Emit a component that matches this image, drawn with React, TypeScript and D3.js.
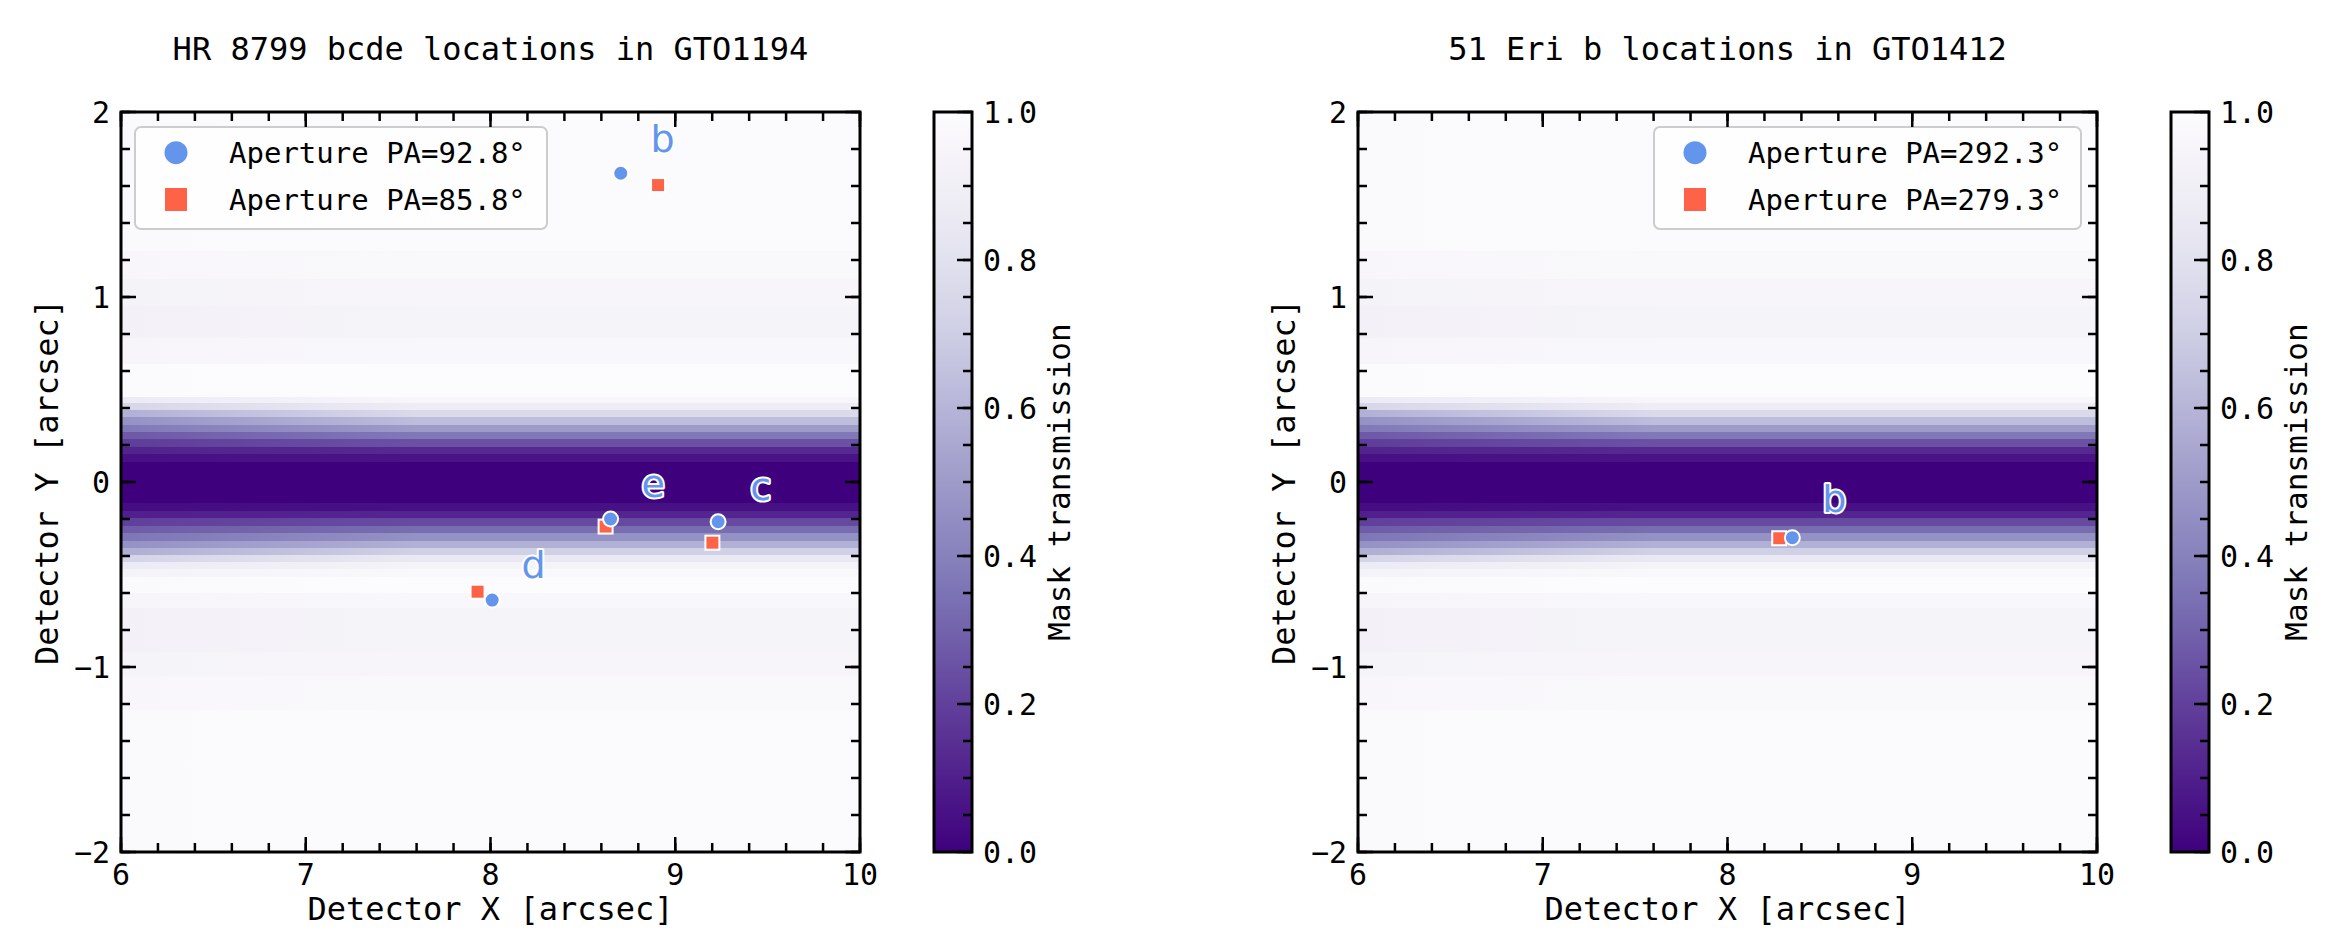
import * as d3 from "d3";

const MONO = "'DejaVu Sans Mono', monospace";
const SANS = "'DejaVu Sans', sans-serif";
const BLUE = "#6495ED";
const RED = "#FF6347";

// mask transmission bands (Detector Y edges, arcsec), value for x >= 7.6 and value at x = 6
const bandEdges = [
  2.0, 1.25, 1.1, 0.95, 0.78, 0.64, 0.461, 0.429, 0.389, 0.35, 0.308, 0.272, 0.231,
  0.191, 0.151, 0.11, -0.115, -0.157, -0.197, -0.238, -0.276, -0.317, -0.355,
  -0.395, -0.431, -0.47, -0.512, -0.6, -0.68, -0.92, -1.05, -1.23, -2.0,
];
const bandRight = [
  0.995, 0.975, 0.95, 0.935, 0.965, 1.0, 0.96, 0.88, 0.76, 0.63, 0.5, 0.37, 0.25,
  0.13, 0.06, 0.0, 0.05, 0.12, 0.23, 0.33, 0.46, 0.58, 0.71, 0.85, 0.93, 0.97, 1.0,
  0.965, 0.935, 0.95, 0.975, 0.995,
];
const bandLeft = [
  0.985, 0.96, 0.93, 0.915, 0.95, 0.99, 0.86, 0.74, 0.58, 0.46, 0.37, 0.27, 0.19,
  0.11, 0.05, 0.0, 0.04, 0.1, 0.2, 0.28, 0.36, 0.46, 0.57, 0.73, 0.86, 0.93, 0.98,
  0.95, 0.915, 0.935, 0.96, 0.985,
];

// HR 8799 in GTO1194
const hrNames = ["b", "c", "d", "e"];
const hrCircX = [8.705, 9.232, 8.009, 8.65];
const hrCircY = [1.669, -0.215, -0.638, -0.2];
const hrSqX = [8.907, 9.201, 7.93, 8.623];
const hrSqY = [1.605, -0.328, -0.593, -0.241];
const hrLabX = [8.932, 9.463, 8.233, 8.88];
const hrLabY = [1.785, -0.097, -0.519, -0.081];
const hrLegend = ["Aperture PA=92.8", "Aperture PA=85.8"];

// 51 Eri in GTO1412
const eriNames = ["b"];
const eriCircX = [8.351];
const eriCircY = [-0.301];
const eriSqX = [8.28];
const eriSqY = [-0.304];
const eriLabX = [8.578];
const eriLabY = [-0.162];
const eriLegend = ["Aperture PA=292.3", "Aperture PA=279.3"];

const cbTicks = [0, 0.2, 0.4, 0.6, 0.8, 1.0];

const cmap = (v: number) => d3.interpolatePurples(1 - v);
const fmtY = (d: number) => (d < 0 ? "\u2212" + Math.abs(d) : String(d));

function Panel(props: any) {
  const { x0, title, names, cx, cy, sx, sy, lx, ly, legend, legendRight, legendW } = props;
  const top = 112, h = 740, w = 739;
  const xS = d3.scaleLinear().domain([6, 10]).range([x0, x0 + w]);
  const yS = d3.scaleLinear().domain([-2, 2]).range([top + h, top]);
  const xMajor = xS.ticks(4);
  const yMajor = yS.ticks(4);
  const xMinor = d3.range(6, 10.001, 0.2);
  const yMinor = d3.range(-2, 2.001, 0.2);
  const cbX = x0 + w + 74, cbW = 38;
  const cS = d3.scaleLinear().domain([0, 1]).range([top + h, top]);
  const cbMinor = d3.range(0, 1.001, 0.05);
  const lgX = legendRight ? x0 + w - 16 - legendW : x0 + 14;
  const lgY = 127;

  return (
    <g>
      <text x={x0 + w / 2} y={60} textAnchor="middle" fontFamily={MONO} fontSize={32}>{title}</text>

      {/* mask */}
      <g shapeRendering="crispEdges">
        {bandRight.map((_, i) => (
          <rect key={i} x={x0} y={yS(bandEdges[i])} width={w}
            height={yS(bandEdges[i + 1]) - yS(bandEdges[i])} fill={`url(#band${i})`} />
        ))}
      </g>

      {/* planet positions */}
      {names.map((n: string, i: number) => (
        <rect key={"s" + n} x={xS(sx[i]) - 7} y={yS(sy[i]) - 7} width={14} height={14}
          fill={RED} stroke="white" strokeWidth={2} />
      ))}
      {names.map((n: string, i: number) => (
        <circle key={"c" + n} cx={xS(cx[i])} cy={yS(cy[i])} r={7.5}
          fill={BLUE} stroke="white" strokeWidth={2} />
      ))}
      {names.map((n: string, i: number) => (
        <text key={"t" + n} x={xS(lx[i])} y={yS(ly[i])} textAnchor="middle" fontFamily={SANS}
          fontSize={38} fill={BLUE} stroke="white" strokeWidth={4} paintOrder="stroke"
          strokeLinejoin="round">{n}</text>
      ))}

      {/* legend */}
      <rect x={lgX} y={lgY} width={legendW} height={102} rx={6} fill="white" fillOpacity={0.8}
        stroke="#cccccc" strokeWidth={2} />
      <circle cx={lgX + 41} cy={lgY + 25.7} r={11.5} fill={BLUE} />
      <rect x={lgX + 30} y={lgY + 61} width={22} height={23} fill={RED} />
      {legend.map((t: string, i: number) => (
        <text key={t} x={lgX + 94} y={lgY + 36 + i * 46.6} fontFamily={MONO} fontSize={29}>
          {t}°
        </text>
      ))}

      {/* ticks */}
      <g stroke="black" strokeWidth={2.5}>
        {xMinor.map((d) => (
          <g key={"xm" + d}>
            <line x1={xS(d)} x2={xS(d)} y1={top + h} y2={top + h - 9} />
            <line x1={xS(d)} x2={xS(d)} y1={top} y2={top + 9} />
          </g>
        ))}
        {xMajor.map((d) => (
          <g key={"xM" + d}>
            <line x1={xS(d)} x2={xS(d)} y1={top + h} y2={top + h - 15} />
            <line x1={xS(d)} x2={xS(d)} y1={top} y2={top + 15} />
          </g>
        ))}
        {yMinor.map((d) => (
          <g key={"ym" + d}>
            <line x1={x0} x2={x0 + 9} y1={yS(d)} y2={yS(d)} />
            <line x1={x0 + w} x2={x0 + w - 9} y1={yS(d)} y2={yS(d)} />
          </g>
        ))}
        {yMajor.map((d) => (
          <g key={"yM" + d}>
            <line x1={x0} x2={x0 + 15} y1={yS(d)} y2={yS(d)} />
            <line x1={x0 + w} x2={x0 + w - 15} y1={yS(d)} y2={yS(d)} />
          </g>
        ))}
      </g>
      <rect x={x0} y={top} width={w} height={h} fill="none" stroke="black" strokeWidth={3} />

      {xMajor.map((d) => (
        <text key={"xl" + d} x={xS(d)} y={top + h + 33} textAnchor="middle" fontFamily={MONO} fontSize={30}>{d}</text>
      ))}
      {yMajor.map((d) => (
        <text key={"yl" + d} x={x0 - 11} y={yS(d) + 11} textAnchor="end" fontFamily={MONO} fontSize={30}>{fmtY(d)}</text>
      ))}
      <text x={x0 + w / 2} y={920} textAnchor="middle" fontFamily={MONO} fontSize={32}>Detector X [arcsec]</text>
      <text transform={`translate(${x0 - 63},${top + h / 2}) rotate(-90)`} textAnchor="middle"
        fontFamily={MONO} fontSize={32}>Detector Y [arcsec]</text>

      {/* colorbar */}
      <rect x={cbX} y={top} width={cbW} height={h} fill="url(#cbar)" />
      <g stroke="black" strokeWidth={2.5}>
        {cbMinor.map((d) => (
          <line key={"cm" + d} x1={cbX + cbW} x2={cbX + cbW - 9} y1={cS(d)} y2={cS(d)} />
        ))}
        {cbTicks.map((d) => (
          <line key={"cM" + d} x1={cbX + cbW} x2={cbX + cbW - 15} y1={cS(d)} y2={cS(d)} />
        ))}
      </g>
      <rect x={cbX} y={top} width={cbW} height={h} fill="none" stroke="black" strokeWidth={3} />
      {cbTicks.map((d) => (
        <text key={"cl" + d} x={cbX + cbW + 11} y={cS(d) + 11} fontFamily={MONO} fontSize={30}>{d.toFixed(1)}</text>
      ))}
      <text transform={`translate(${cbX + cbW + 98},${top + h / 2}) rotate(-90)`} textAnchor="middle"
        fontFamily={MONO} fontSize={31}>Mask transmission</text>
    </g>
  );
}

export default function App() {
  const cbStops = d3.range(0, 1.001, 0.05);
  return (
    <svg width={2336} height={940} style={{ position: "absolute", left: 0, top: 0, background: "white" }}>
      <defs>
        {bandRight.map((r, i) => (
          <linearGradient key={i} id={`band${i}`} x1="0" x2="1" y1="0" y2="0">
            <stop offset="0" stopColor={cmap(bandLeft[i])} />
            <stop offset="0.4" stopColor={cmap(r)} />
            <stop offset="1" stopColor={cmap(r)} />
          </linearGradient>
        ))}
        <linearGradient id="cbar" x1="0" x2="0" y1="1" y2="0">
          {cbStops.map((v) => (
            <stop key={v} offset={v} stopColor={cmap(v)} />
          ))}
        </linearGradient>
      </defs>
      <rect width={2336} height={940} fill="white" />
      <Panel x0={121} title="HR 8799 bcde locations in GTO1194" names={hrNames}
        cx={hrCircX} cy={hrCircY} sx={hrSqX} sy={hrSqY} lx={hrLabX} ly={hrLabY}
        legend={hrLegend} legendRight={false} legendW={412} />
      <Panel x0={1358} title="51 Eri b locations in GTO1412" names={eriNames}
        cx={eriCircX} cy={eriCircY} sx={eriSqX} sy={eriSqY} lx={eriLabX} ly={eriLabY}
        legend={eriLegend} legendRight={true} legendW={427} />
    </svg>
  );
}
